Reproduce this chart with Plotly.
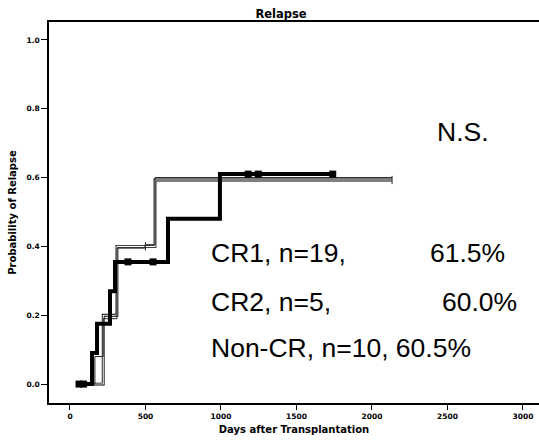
import plotly.graph_objects as go

# Kaplan-Meier style cumulative relapse curves (days, probability)
cr1_days = [46, 146, 179, 265, 298, 649, 993, 1740]
cr1_prob = [0.0, 0.09, 0.175, 0.27, 0.355, 0.48, 0.61, 0.61]
cr1_cens_days = [60, 90, 384, 550, 1180, 1247, 1740]
cr1_cens_prob = [0.0, 0.0, 0.355, 0.355, 0.61, 0.61, 0.61]

noncr_days = [46, 165, 220, 311, 497, 563, 2133]
noncr_prob = [0.0, 0.08, 0.19, 0.395, 0.405, 0.6, 0.6]

cr2_days = [46, 220, 311, 563, 2133]
cr2_prob = [0.0, 0.2, 0.4, 0.593, 0.593]
cr2_cens_days = [500, 2133]
cr2_cens_prob = [0.4, 0.593]

x_ticks = [0, 500, 1000, 1500, 2000, 2500, 3000]
y_ticks = [0.0, 0.2, 0.4, 0.6, 0.8, 1.0]
y_tick_text = ["0.0", "0.2", "0.4", "0.6", "0.8", "1.0"]

fig = go.Figure()

# CR2: outlined line (black edges, white core)
fig.add_trace(go.Scatter(x=cr2_days, y=cr2_prob, mode="lines", line_shape="hv",
                         line=dict(color="black", width=2.8), showlegend=False, hoverinfo="skip"))
fig.add_trace(go.Scatter(x=cr2_days, y=cr2_prob, mode="lines", line_shape="hv",
                         line=dict(color="white", width=1.1), showlegend=False))
# Non-CR: thin black line
fig.add_trace(go.Scatter(x=noncr_days, y=noncr_prob, mode="lines", line_shape="hv",
                         line=dict(color="#222222", width=1.0), showlegend=False))
# CR1: thick black line
fig.add_trace(go.Scatter(x=cr1_days, y=cr1_prob, mode="lines", line_shape="hv",
                         line=dict(color="black", width=4), showlegend=False))
fig.add_trace(go.Scatter(x=cr1_cens_days, y=cr1_cens_prob, mode="markers",
                         marker=dict(color="black", size=7, symbol="square"), showlegend=False))
fig.add_trace(go.Scatter(x=cr2_cens_days, y=cr2_cens_prob, mode="markers",
                         marker=dict(color="#333333", size=6, symbol="line-ns-open",
                                     line=dict(width=1, color="#333333")), showlegend=False))

big = dict(family="Liberation Sans, Arial, sans-serif", size=26.5, color="black")
ann = [
    dict(text="N.S.", x=2417, y=0.733),
    dict(text="CR1, n=19,", x=920, y=0.381),
    dict(text="61.5%", x=2371, y=0.381),
    dict(text="CR2, n=5,", x=920, y=0.238),
    dict(text="60.0%", x=2450, y=0.238),
    dict(text="Non-CR, n=10, 60.5%", x=920, y=0.105),
]
for a in ann:
    fig.add_annotation(text=a["text"], x=a["x"], y=a["y"], xref="x", yref="y",
                       xanchor="left", yanchor="middle", showarrow=False, font=big)

small_bold = dict(family="DejaVu Sans, sans-serif", size=7.5, color="black")
fig.update_layout(
    width=539, height=441,
    margin=dict(l=49, r=0, t=22, b=38),
    paper_bgcolor="white", plot_bgcolor="white",
    title=dict(text="<b>Relapse</b>", x=281 / 539, xanchor="center", y=1 - 14 / 441, yanchor="middle",
               font=dict(family="DejaVu Sans, sans-serif", size=11.5, color="black")),
    xaxis=dict(range=[-139, 3106], tickvals=x_ticks, ticktext=[f"<b>{v}</b>" for v in x_ticks],
               showgrid=False, zeroline=False, showline=True, linecolor="black", linewidth=1.5,
               mirror=True, ticks="outside", ticklen=5, tickwidth=1, tickcolor="black",
               tickfont=small_bold,
               title=dict(text="<b>Days after Transplantation</b>", standoff=6,
                          font=dict(family="DejaVu Sans, sans-serif", size=10, color="black"))),
    yaxis=dict(range=[-0.055, 1.052], tickvals=y_ticks, ticktext=[f"<b>{t}</b>" for t in y_tick_text],
               showgrid=False, zeroline=False, showline=True, linecolor="black", linewidth=1.5,
               mirror=False, ticks="outside", ticklen=6, tickwidth=1, tickcolor="black",
               tickfont=small_bold,
               title=dict(text="<b>Probability of Relapse</b>", standoff=8,
                          font=dict(family="DejaVu Sans, sans-serif", size=10, color="black"))),
)

fig.write_html("out.html")
